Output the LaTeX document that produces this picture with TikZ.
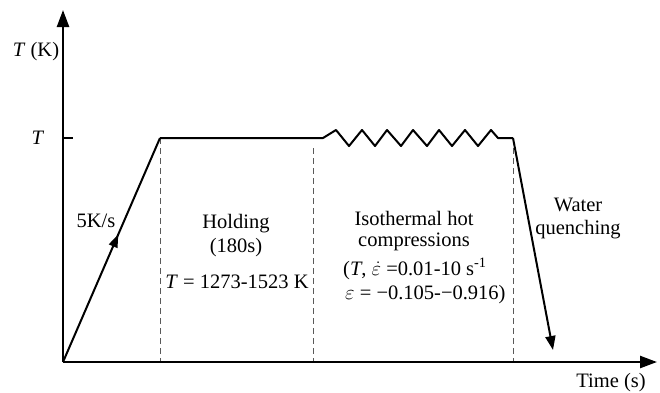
\documentclass[tikz,border=0pt]{standalone}
\usepackage{fontspec}
\setmainfont{Liberation Serif}
\usetikzlibrary{arrows.meta,decorations.markings}
\begin{document}
\begin{tikzpicture}[x=1pt,y=-1pt,
  axisline/.style={line width=2.4pt,-{Triangle[length=17pt,width=12pt]}},
  curveline/.style={line width=2pt,line join=round},
  guide/.style={dashed,line width=0.9pt,gray!70!black,dash pattern=on 6pt off 4pt},
  lbl/.style={font=\fontsize{20.5}{25}\selectfont,align=center,inner sep=0pt}]
\useasboundingbox (0,0) rectangle (660,392);
% key points
\coordinate (O) at (63,362);
\coordinate (Ytop) at (63,10);
\coordinate (Xend) at (657,362);
\coordinate (Tick) at (73,138);
\coordinate (TickO) at (63,138);
\coordinate (A) at (160,138);
\coordinate (B) at (323,138);
\coordinate (C) at (498,138);
\coordinate (D) at (513,138);
\coordinate (Q) at (553,350);
\coordinate (A0) at (160,362);
\coordinate (M1) at (313,148);
\coordinate (M0) at (313,362);
\coordinate (D0) at (513,362);
% guides
\draw[guide] (A) -- (A0);
\draw[guide] (M1) -- (M0);
\draw[guide] (D) -- (D0);
% axes
\draw[axisline] (O) -- (Ytop);
\draw[axisline] (O) -- (Xend);
\draw[line width=2pt] (TickO) -- (Tick);
% curve
\draw[curveline,postaction={decorate},decoration={markings,
  mark=at position 0.57 with {\arrow{Triangle[length=13pt,width=9pt]}}}] (O) -- (A);
\draw[curveline] (A) -- (B) -- (336,130) -- (349,146) -- (362,130) -- (375,146)
  -- (387,130) -- (401,146) -- (413,130) -- (427,146) -- (439,130) -- (452,146)
  -- (465,130) -- (478,146) -- (491,130) -- (C) -- (D);
\draw[curveline,-{Triangle[length=14pt,width=10pt]}] (D) -- (Q);
% labels
\node[lbl] (ylab) at (36,52) {\textit{T} (K)};
\node[lbl] (tlab) at (38,138) {\textit{T}};
\node[lbl] (rate) at (96,221) {5K/s};
\node[lbl] (hold) at (236,224) {Holding};
\node[lbl] (hold2) at (236,248) {(180s)};
\node[lbl] (holdT) at (237,282) {\textit{T} = 1273-1523 K};
\node[lbl] (iso) at (414,218) {Isothermal hot};
\node[lbl] (isob) at (414,242) {compressions};
\node[lbl,anchor=west] (iso2) at (343,269) {(\textit{T}, $\dot{\varepsilon}$ =0.01-10 s\textsuperscript{-1}};
\node[lbl,anchor=west] (iso3) at (345,295) {$\varepsilon$ = −0.105-−0.916)};
\node[lbl] (water) at (578,205) {Water};
\node[lbl] (waterb) at (578,230) {quenching};
\node[lbl] (time) at (611,383) {Time (s)};
\end{tikzpicture}
\end{document}
